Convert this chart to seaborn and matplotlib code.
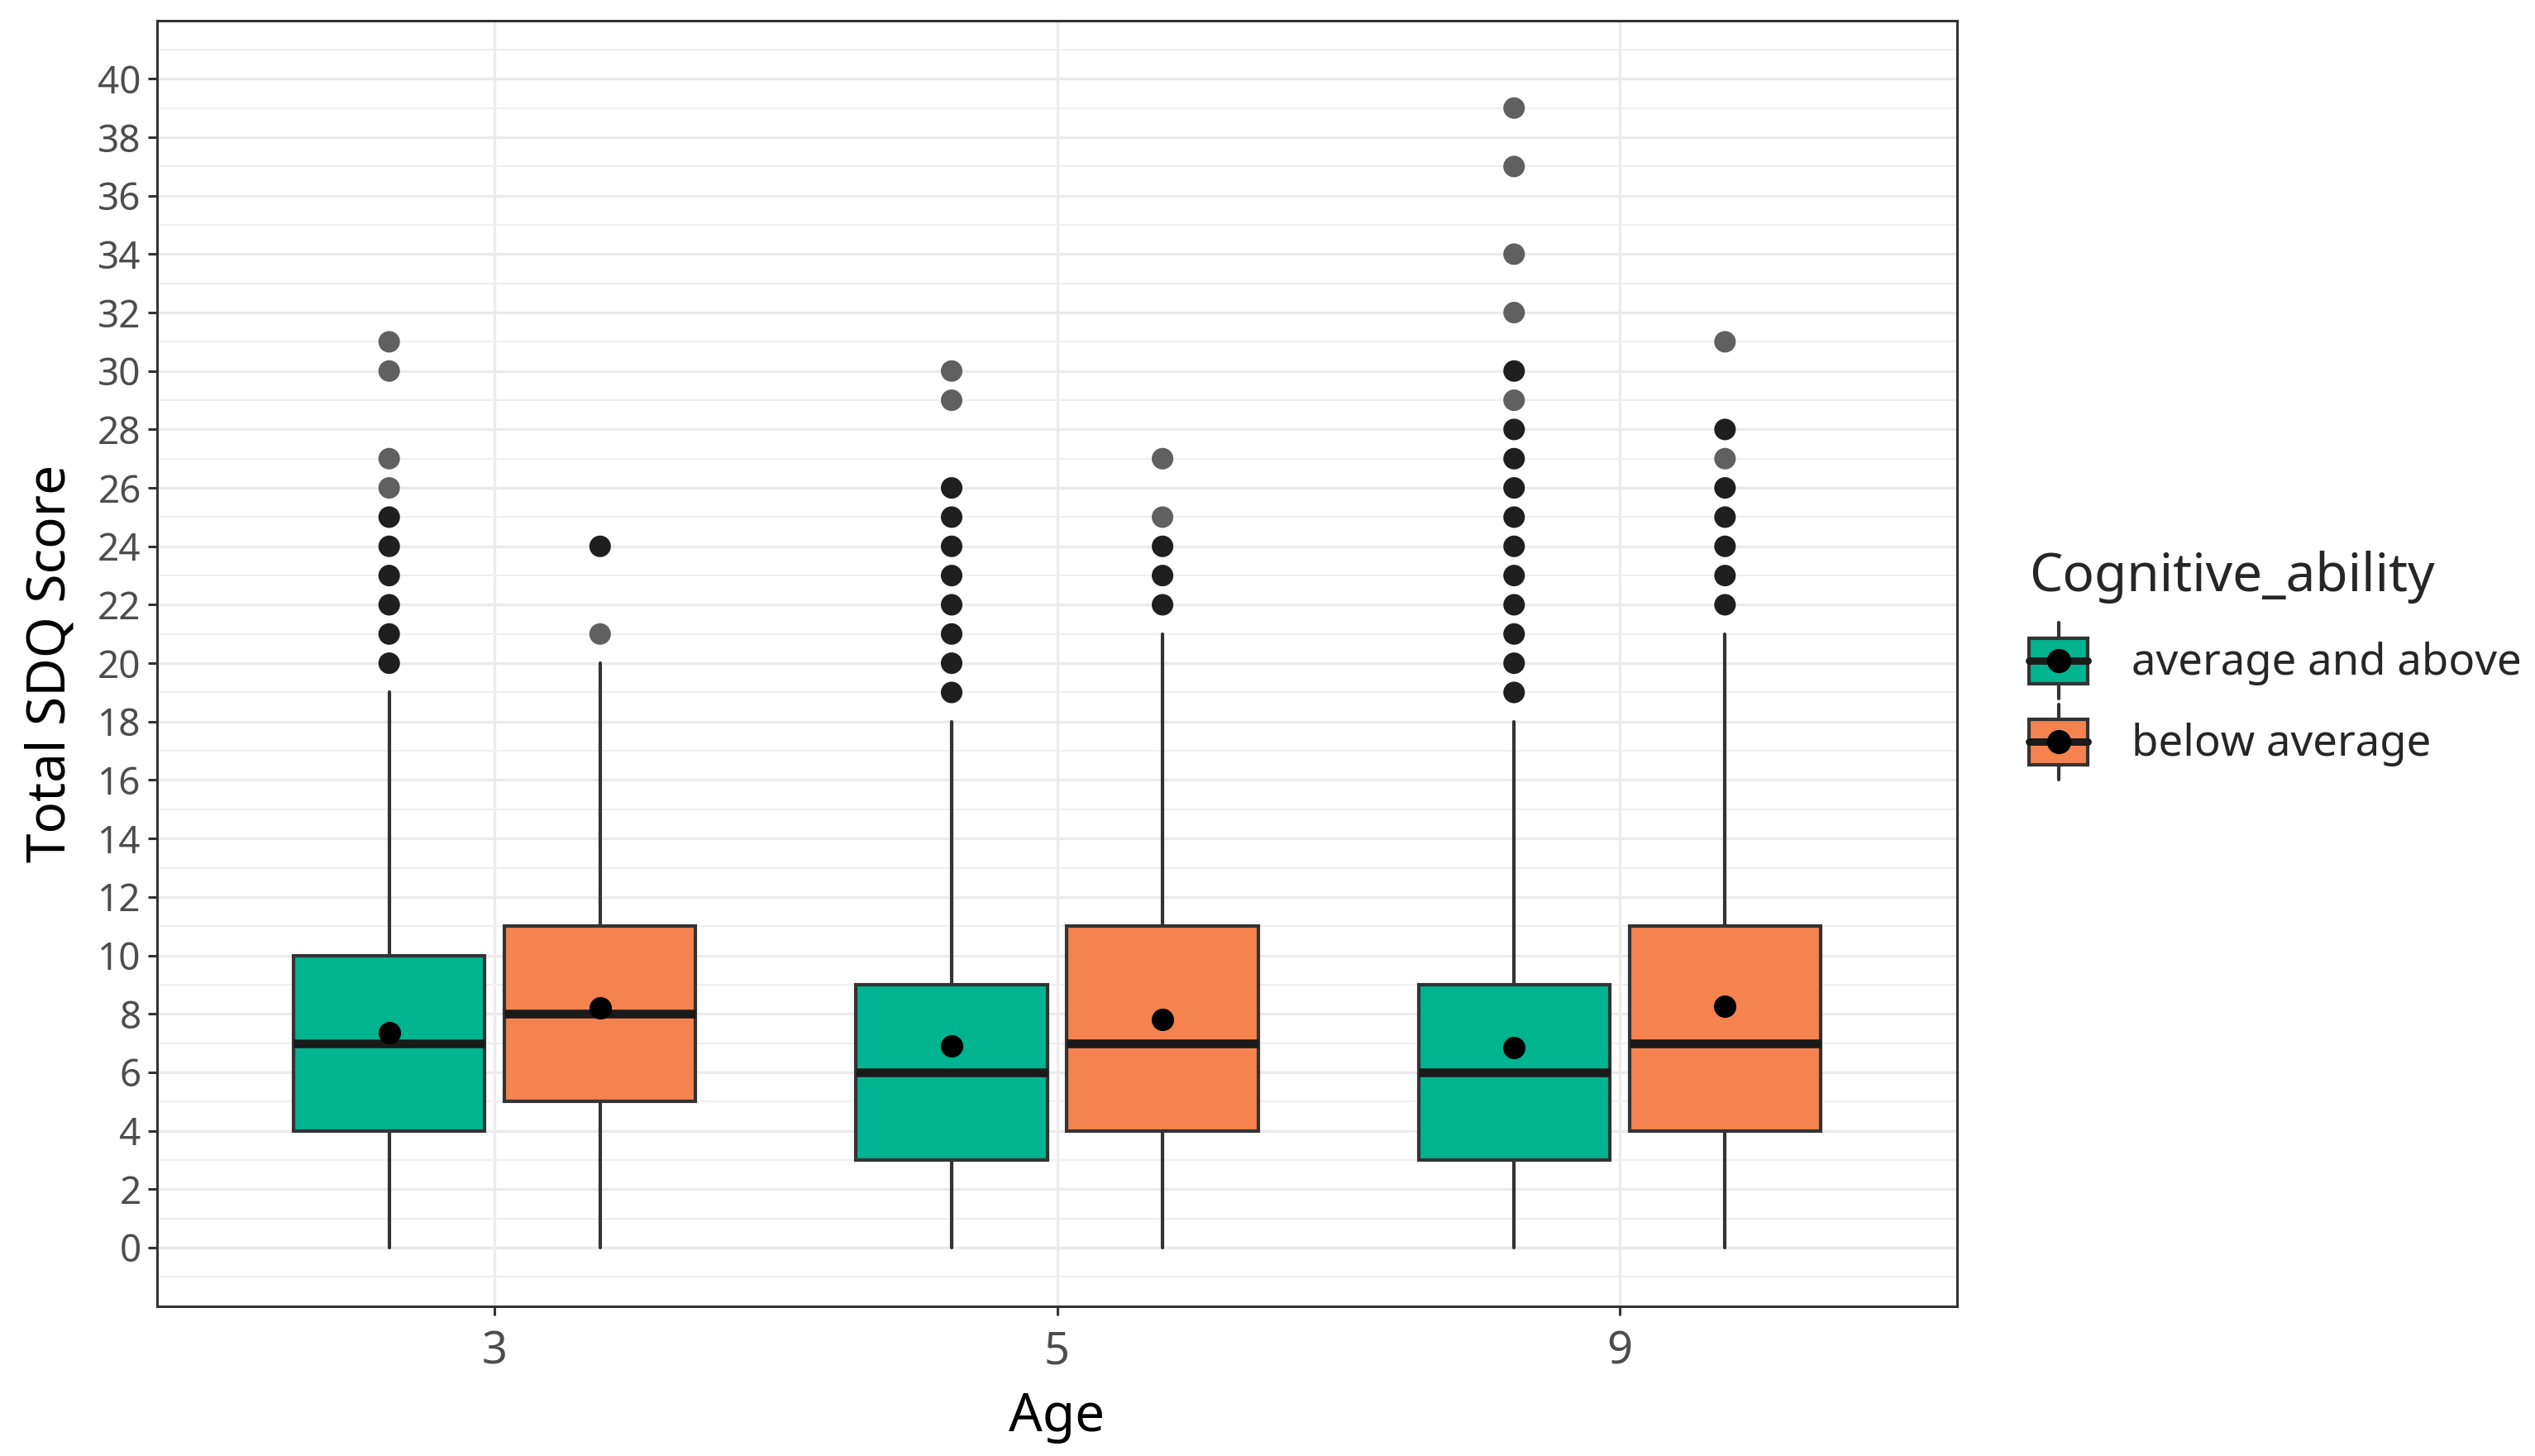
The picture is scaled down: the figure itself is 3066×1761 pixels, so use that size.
import matplotlib
matplotlib.use("Agg")
import matplotlib.pyplot as plt
import seaborn as sns
import numpy as np
import pandas as pd
from matplotlib.legend_handler import HandlerBase
from matplotlib.patches import Rectangle
from matplotlib.lines import Line2D
from matplotlib.ticker import MultipleLocator

# ---------------- data ----------------
ages = ["3", "5", "9"]
groups = ["average and above", "below average"]
colors = {"average and above": "#00B391", "below average": "#F5834F"}

whisk_lo = {"average and above": [0, 0, 0], "below average": [0, 0, 0]}
q1 = {"average and above": [4, 3, 3], "below average": [5, 4, 4]}
median = {"average and above": [7, 6, 6], "below average": [8, 7, 7]}
q3 = {"average and above": [10, 9, 9], "below average": [11, 11, 11]}
whisk_hi = {"average and above": [19, 18, 18], "below average": [20, 21, 21]}
means = {"average and above": [7.35, 6.9, 6.85], "below average": [8.2, 7.8, 8.25]}

# outliers: value lists and shade ("d" = many overlapping points, "l" = few)
outliers = {
    ("3", "average and above"): [20, 21, 22, 23, 24, 25, 26, 27, 30, 31],
    ("3", "below average"): [21, 24],
    ("5", "average and above"): [19, 20, 21, 22, 23, 24, 25, 26, 29, 30],
    ("5", "below average"): [22, 23, 24, 25, 27],
    ("9", "average and above"): [19, 20, 21, 22, 23, 24, 25, 26, 27, 28, 29, 30, 32, 34, 37, 39],
    ("9", "below average"): [22, 23, 24, 25, 26, 27, 28, 31],
}
outlier_shade = {
    ("3", "average and above"): ["d", "d", "d", "d", "d", "d", "l", "l", "l", "l"],
    ("3", "below average"): ["l", "d"],
    ("5", "average and above"): ["d", "d", "d", "d", "d", "d", "d", "d", "l", "l"],
    ("5", "below average"): ["d", "d", "d", "l", "l"],
    ("9", "average and above"): ["d", "d", "d", "d", "d", "d", "d", "d", "d", "d", "l", "d", "l", "l", "l", "l"],
    ("9", "below average"): ["d", "d", "d", "d", "d", "l", "d", "l"],
}

yticks = list(range(0, 41, 2))

# ---------------- style ----------------
sns.set_theme(style="whitegrid")
plt.rcParams["font.family"] = ["Noto Sans", "DejaVu Sans"]

fig = plt.figure(figsize=(15.33, 8.805), dpi=200)
ax = fig.add_axes([0.062, 0.103, 0.710, 0.883])

offsets = {"average and above": -0.1875, "below average": 0.1875}
box_w = 0.34
LW = 1.5

for g in groups:
    stats = []
    pos = []
    for i, a in enumerate(ages):
        stats.append(dict(whislo=whisk_lo[g][i], q1=q1[g][i], med=median[g][i],
                          q3=q3[g][i], whishi=whisk_hi[g][i], fliers=[]))
        pos.append(i + offsets[g])
    ax.bxp(stats, positions=pos, widths=box_w, patch_artist=True, showcaps=False,
           showfliers=False,
           boxprops=dict(facecolor=colors[g], edgecolor="#333333", linewidth=LW),
           whiskerprops=dict(color="#333333", linewidth=LW),
           medianprops=dict(color="#1a1a1a", linewidth=3.8, solid_capstyle="butt"),
           manage_ticks=False, zorder=3)

# outliers
rows = []
for (a, g), vals in outliers.items():
    for v, s in zip(vals, outlier_shade[(a, g)]):
        rows.append(dict(x=ages.index(a) + offsets[g], y=v, shade=s))
odf = pd.DataFrame(rows)
sns.scatterplot(data=odf, x="x", y="y", hue="shade", palette={"d": "#1f1f1f", "l": "#606060"},
                s=88, linewidth=0, legend=False, ax=ax, zorder=4)

# means
mrows = []
for g in groups:
    for i, a in enumerate(ages):
        mrows.append(dict(x=i + offsets[g], y=means[g][i]))
mdf = pd.DataFrame(mrows)
sns.scatterplot(data=mdf, x="x", y="y", color="black", s=95, linewidth=0,
                legend=False, ax=ax, zorder=5)

# axes
ax.set_xlim(-0.6, 2.6)
ax.set_ylim(-2, 42)
ax.set_xticks(range(len(ages)))
ax.set_xticklabels(ages)
ax.set_yticks(yticks)
ax.yaxis.set_minor_locator(MultipleLocator(1))
ax.grid(which="major", color="#EBEBEB", linewidth=1.2)
ax.grid(which="minor", axis="y", color="#EFEFEF", linewidth=0.7)
ax.set_axisbelow(True)
for sp in ax.spines.values():
    sp.set_color("#333333")
    sp.set_linewidth(1.1)
ax.tick_params(which="major", direction="out", length=4, width=1.1, color="#333333",
               labelcolor="#4D4D4D", bottom=True, left=True, pad=3)
ax.tick_params(axis="y", labelsize=16.5)
ax.tick_params(axis="x", labelsize=19.5, pad=6)
ax.tick_params(which="minor", length=0)
ax.set_xlabel("Age", fontsize=23, color="black", labelpad=7)
ax.set_ylabel("Total SDQ Score", fontsize=23, color="black", labelpad=9)


# legend
class BoxHandler(HandlerBase):
    def __init__(self, color):
        super().__init__()
        self.color = color

    def create_artists(self, legend, orig_handle, xdescent, ydescent, width, height, fontsize, trans):
        cx = -xdescent + width / 2
        cy = -ydescent + height / 2
        bw = width
        bh = height * 0.6
        vline = Line2D([cx, cx], [-ydescent, -ydescent + height], color="#333333", lw=LW, transform=trans)
        rect = Rectangle((cx - bw / 2, cy - bh / 2), bw, bh, facecolor=self.color,
                         edgecolor="#333333", lw=LW, transform=trans)
        med = Line2D([cx - bw / 2, cx + bw / 2], [cy, cy], color="#1a1a1a", lw=3.2, transform=trans)
        dot = Line2D([cx], [cy], marker="o", color="black", markersize=9.5, lw=0, transform=trans)
        return [vline, rect, med, dot]


handles = [Rectangle((0, 0), 1, 1) for _ in groups]
hmap = {h: BoxHandler(colors[g]) for h, g in zip(handles, groups)}
leg = fig.legend(handles, groups, handler_map=hmap, loc="upper left",
                 bbox_to_anchor=(0.797, 0.628), frameon=False, title="Cognitive_ability",
                 fontsize=19, title_fontsize=23, handlelength=1.35, handleheight=2.3,
                 labelspacing=0.12, handletextpad=1.0, borderaxespad=0, borderpad=0.2)
leg._legend_box.align = "left"
leg._legend_box.sep = 0.45 * 19

fig.savefig("out.png", dpi=200)
